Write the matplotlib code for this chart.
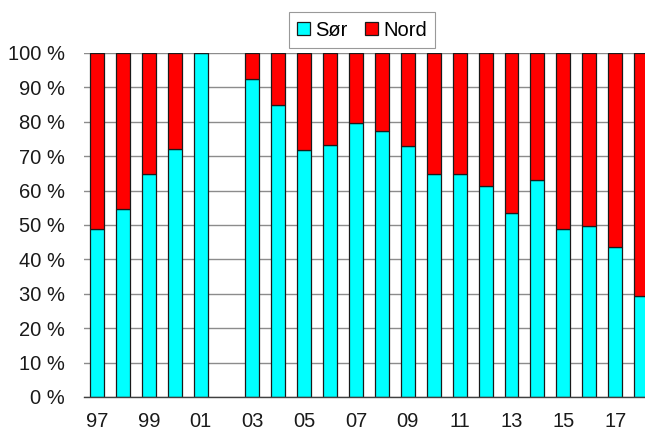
import matplotlib
matplotlib.use("Agg")
import matplotlib.pyplot as plt
import numpy as np

years = ["97", "98", "99", "00", "01", "02", "03", "04", "05", "06", "07",
         "08", "09", "10", "11", "12", "13", "14", "15", "16", "17", "18"]
sor = [48.9, 54.6, 64.9, 72.1, 100.0, np.nan, 92.4, 84.8, 71.9, 73.3, 79.7,
       77.2, 73.1, 64.8, 64.8, 61.2, 53.5, 63.2, 48.8, 49.6, 43.7, 29.4]
nord = [100 - v if not np.isnan(v) else np.nan for v in sor]
yticks = list(range(0, 101, 10))

plt.rcParams['font.family'] = ['Liberation Sans', 'DejaVu Sans']

fig = plt.figure(figsize=(6.45, 4.30), dpi=100)
ax = fig.add_axes([84 / 645, 33 / 430, 570 / 645, 344 / 430])

x = np.arange(len(years))
mask = ~np.isnan(np.array(sor))
xs = x[mask]
s = np.array(sor)[mask]
n = np.array(nord)[mask]
w = 0.54
ax.bar(xs, s, width=w, color="#00FFFF", edgecolor="#1a1a1a", linewidth=0.9, label="Sør", zorder=3)
ax.bar(xs, n, width=w, bottom=s, color="#FF0000", edgecolor="#1a1a1a", linewidth=0.9, label="Nord", zorder=3)

ax.set_xlim(-0.5, len(years) - 0.5)
ax.set_ylim(0, 100)
ax.set_yticks(yticks)
ax.set_yticklabels([f"{v} %" for v in yticks])
ax.set_xticks(x[::2])
ax.set_xticklabels(years[::2])
ax.yaxis.grid(True, color="#8c8c8c", linewidth=1.0, zorder=0)
ax.set_axisbelow(True)
for sp in ["left", "right", "top"]:
    ax.spines[sp].set_visible(False)
ax.spines["bottom"].set_color("#404040")
ax.spines["bottom"].set_linewidth(1.0)
ax.spines["bottom"].set_zorder(4)
ax.tick_params(axis="y", length=0, pad=13.5, labelsize=14.5, colors="#1a1a1a")
ax.tick_params(axis="x", length=0, pad=11, labelsize=14.5, colors="#1a1a1a")

leg = fig.legend(loc="center", bbox_to_anchor=(362 / 645, 1 - 30 / 430), ncol=2,
                 fontsize=14.5, frameon=True, fancybox=False, edgecolor="#808080",
                 handlelength=0.65, handleheight=0.65, handletextpad=0.25,
                 columnspacing=0.9, borderpad=0.4, borderaxespad=0)
leg.get_frame().set_linewidth(0.8)

fig.savefig("out.png", dpi=100)
